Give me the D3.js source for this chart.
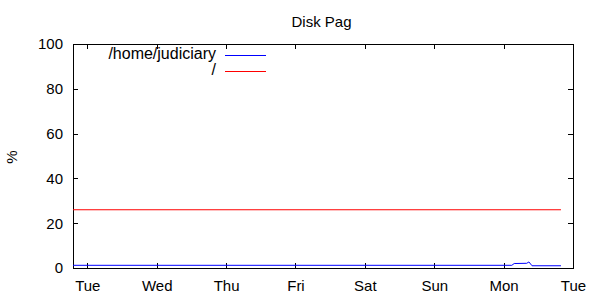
<!DOCTYPE html>
<html>
<head>
<meta charset="utf-8">
<script src="https://cdn.jsdelivr.net/npm/d3@7"></script>
<style>
    body { margin: 0; background: #fff; }
    text { font-family: "Liberation Sans", Arial, sans-serif; fill: #000; }
</style>
</head>
<body>
<div id="chart"></div>
<script>
// -----------------------------
// DATA
// -----------------------------
const seriesNames = ["/home/judiciary", "/"];
const seriesColors = ["#0000ff", "#ff0000"];

const homeTimes = ["2024-01-01T19:03", "2024-01-08T02:50", "2024-01-08T03:40", "2024-01-08T08:00", "2024-01-08T08:45", "2024-01-08T09:50", "2024-01-08T19:50"];
const homeValues = [1.2, 1.2, 2.0, 2.1, 2.7, 1.0, 1.0];

const rootTimes = ["2024-01-01T19:03", "2024-01-08T19:50"];
const rootValues = [26, 26];

const yTicks = [0, 20, 40, 60, 80, 100];
const xDomain = ["2024-01-01T19:03", "2024-01-09T00:00"];

// -----------------------------
// SETUP
// -----------------------------
const width = 600, height = 300;
const margin = { top: 44, right: 27, bottom: 32, left: 73 };
const plotWidth = width - margin.left - margin.right;
const plotHeight = height - margin.top - margin.bottom;
const tickLen = 5;

const parse = d3.timeParse("%Y-%m-%dT%H:%M");

const svg = d3.select("#chart").append("svg")
    .attr("width", width)
    .attr("height", height);

const g = svg.append("g")
    .attr("transform", `translate(${margin.left},${margin.top})`);

const x = d3.scaleTime()
    .domain(xDomain.map(parse))
    .range([0, plotWidth]);

const y = d3.scaleLinear()
    .domain([0, 100])
    .range([plotHeight, 0]);

const days = d3.timeDay.range(d3.timeDay.ceil(x.domain()[0]), d3.timeDay.offset(x.domain()[1], 1));

// -----------------------------
// AXES (gnuplot style, inward + mirrored)
// -----------------------------
const bottomAxis = g.append("g")
    .attr("transform", `translate(0,${plotHeight})`)
    .call(d3.axisBottom(x).tickValues(days).tickFormat(d3.timeFormat("%a")).tickSizeInner(-tickLen).tickSizeOuter(0).tickPadding(tickLen + 7));

const topAxis = g.append("g")
    .call(d3.axisTop(x).tickValues(days).tickFormat("").tickSizeInner(-tickLen).tickSizeOuter(0));

const leftAxis = g.append("g")
    .call(d3.axisLeft(y).tickValues(yTicks).tickSizeInner(-tickLen).tickSizeOuter(0).tickPadding(tickLen + 5));

const rightAxis = g.append("g")
    .attr("transform", `translate(${plotWidth},0)`)
    .call(d3.axisRight(y).tickValues(yTicks).tickFormat("").tickSizeInner(-tickLen).tickSizeOuter(0));

[bottomAxis, topAxis, leftAxis, rightAxis].forEach(a => {
    a.selectAll("path").attr("stroke", "#000").attr("shape-rendering", "crispEdges");
    a.selectAll("line").attr("stroke", "#000").attr("shape-rendering", "crispEdges");
    a.selectAll("text").style("font-size", "15px").attr("fill", "#000");
});

// -----------------------------
// LINES
// -----------------------------
const line = d3.line()
    .x(d => x(d.t))
    .y(d => y(d.v));

const series = [
    homeTimes.map((t, i) => ({ t: parse(t), v: homeValues[i] })),
    rootTimes.map((t, i) => ({ t: parse(t), v: rootValues[i] }))
];

series.forEach((s, i) => {
    g.append("path")
        .attr("fill", "none")
        .attr("stroke", seriesColors[i])
        .attr("stroke-width", 1)
        .attr("d", line(s));
});

// -----------------------------
// LEGEND
// -----------------------------
seriesNames.forEach((name, i) => {
    const ly = 55.5 + i * 16;
    svg.append("text")
        .attr("x", 216)
        .attr("y", ly + 3.5)
        .attr("text-anchor", "end")
        .style("font-size", "16px")
        .text(name);
    svg.append("line")
        .attr("x1", 225).attr("x2", 266)
        .attr("y1", ly).attr("y2", ly)
        .attr("stroke", seriesColors[i])
        .attr("stroke-width", 1);
});

// -----------------------------
// TITLE + Y LABEL
// -----------------------------
svg.append("text")
    .attr("x", 321.5)
    .attr("y", 27)
    .attr("text-anchor", "middle")
    .style("font-size", "15px")
    .text("Disk Pag");

svg.append("text")
    .attr("transform", "translate(17,157) rotate(-90)")
    .attr("text-anchor", "middle")
    .style("font-size", "15px")
    .text("%");
</script>
</body>
</html>
